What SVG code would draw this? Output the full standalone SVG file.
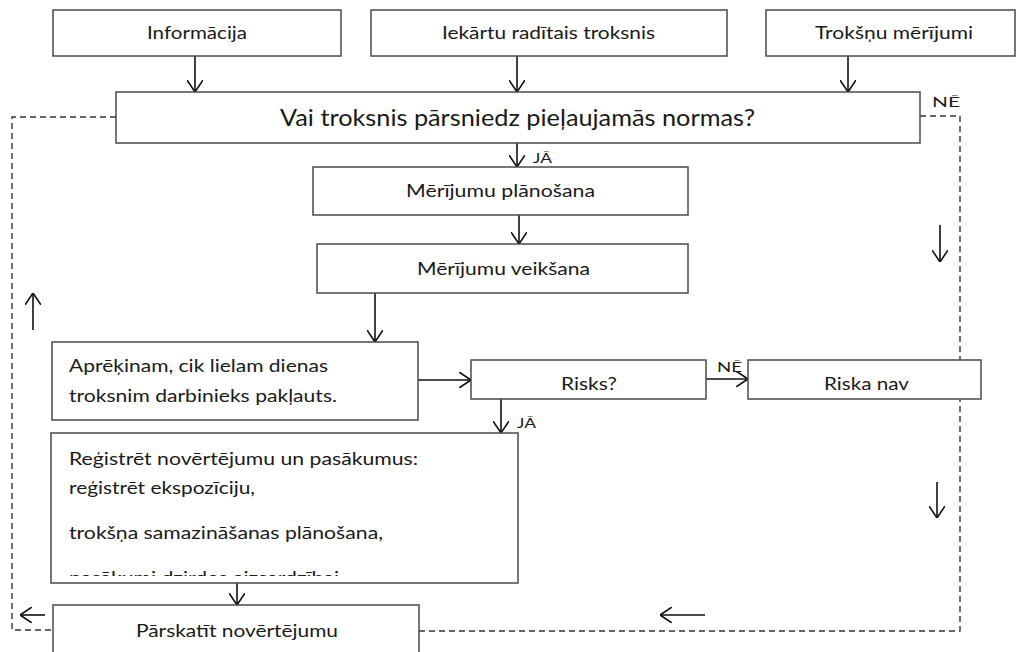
<svg xmlns="http://www.w3.org/2000/svg" width="1017" height="652" viewBox="0 0 1017 652">
<style>
.box{fill:#fff;stroke:#4a4a4a;stroke-width:1.5}
.t{font-family:Lato,"Liberation Sans",sans-serif;fill:#1a1a1a;font-size:18px}
.c{text-anchor:middle}
.lbl{font-family:Lato,"Liberation Sans",sans-serif;fill:#1a1a1a;font-size:14px}
.ln{fill:none;stroke:#111;stroke-width:1.6}
.dash{fill:none;stroke:#333;stroke-width:1.4;stroke-dasharray:6 4}
</style>
<defs>
<marker id="ah" viewBox="0 0 12 16" refX="12" refY="8" markerWidth="12" markerHeight="16" markerUnits="userSpaceOnUse" orient="auto">
<path d="M0,0 L12,8 L0,16" fill="none" stroke="#111" stroke-width="1.6"/>
</marker>
<clipPath id="clipReg"><rect x="52" y="434" width="465" height="142"/></clipPath>
</defs>
<g id="connectors">
<path class="dash" d="M116,117 H12 V630 H53"/>
<path class="dash" d="M920,116 H960 V631 H419"/>
<line class="ln" x1="195" y1="56" x2="195" y2="92" marker-end="url(#ah)"/>
<line class="ln" x1="517" y1="56" x2="517" y2="92" marker-end="url(#ah)"/>
<line class="ln" x1="848" y1="56" x2="848" y2="92" marker-end="url(#ah)"/>
<line class="ln" x1="517" y1="143" x2="517" y2="167" marker-end="url(#ah)"/>
<line class="ln" x1="519" y1="215" x2="519" y2="244" marker-end="url(#ah)"/>
<line class="ln" x1="375" y1="293" x2="375" y2="342" marker-end="url(#ah)"/>
<line class="ln" x1="418" y1="380" x2="471" y2="380" marker-end="url(#ah)"/>
<line class="ln" x1="706" y1="379" x2="748" y2="379" marker-end="url(#ah)"/>
<line class="ln" x1="501" y1="399" x2="501" y2="433" marker-end="url(#ah)"/>
<line class="ln" x1="237" y1="583" x2="237" y2="605" marker-end="url(#ah)"/>
<line class="ln" x1="940" y1="225" x2="940" y2="262" marker-end="url(#ah)"/>
<line class="ln" x1="937" y1="482" x2="937" y2="518" marker-end="url(#ah)"/>
<line class="ln" x1="33" y1="330" x2="33" y2="293" marker-end="url(#ah)"/>
<line class="ln" x1="705" y1="615" x2="660" y2="615" marker-end="url(#ah)"/>
<line class="ln" x1="45" y1="615" x2="20" y2="615" marker-end="url(#ah)"/>
<text class="lbl" x="932" y="107" textLength="28" lengthAdjust="spacingAndGlyphs">NĒ</text>
<text class="lbl" x="533" y="163" textLength="19" lengthAdjust="spacingAndGlyphs">JĀ</text>
<text class="lbl" x="717" y="372" textLength="25" lengthAdjust="spacingAndGlyphs">NĒ</text>
<text class="lbl" x="517" y="428" textLength="19" lengthAdjust="spacingAndGlyphs">JĀ</text>
</g>
<g id="n-informacija">
<rect class="box" x="53" y="10" width="288" height="46"/>
<text class="t" x="147" y="39" textLength="100" lengthAdjust="spacingAndGlyphs">Informācija</text>
</g>
<g id="n-iekartu">
<rect class="box" x="371" y="10" width="356" height="46"/>
<text class="t" x="442" y="39" textLength="213" lengthAdjust="spacingAndGlyphs">Iekārtu radītais troksnis</text>
</g>
<g id="n-meritumi">
<rect class="box" x="766" y="10" width="249" height="46"/>
<text class="t" x="815" y="39" textLength="158" lengthAdjust="spacingAndGlyphs">Trokšņu mērījumi</text>
</g>
<g id="n-jautajums">
<rect class="box" x="116" y="92" width="804" height="51"/>
<text class="t" x="280" y="126" style="font-size:23px" textLength="475" lengthAdjust="spacingAndGlyphs">Vai troksnis pārsniedz pieļaujamās normas?</text>
</g>
<g id="n-planosana">
<rect class="box" x="313" y="167" width="375" height="48"/>
<text class="t" x="406" y="197" textLength="189" lengthAdjust="spacingAndGlyphs">Mērījumu plānošana</text>
</g>
<g id="n-veiksana">
<rect class="box" x="317" y="244" width="371" height="49"/>
<text class="t" x="417" y="275" textLength="173" lengthAdjust="spacingAndGlyphs">Mērījumu veikšana</text>
</g>
<g id="n-aprekinam">
<rect class="box" x="52" y="342" width="366" height="78"/>
<text class="t" x="69" y="372" textLength="259" lengthAdjust="spacingAndGlyphs">Aprēķinam, cik lielam dienas</text>
<text class="t" x="69" y="402" textLength="268" lengthAdjust="spacingAndGlyphs">troksnim darbinieks pakļauts.</text>
</g>
<g id="n-risks">
<rect class="box" x="471" y="360" width="235" height="39"/>
<text class="t" x="561" y="390" textLength="56" lengthAdjust="spacingAndGlyphs">Risks?</text>
</g>
<g id="n-riska-nav">
<rect class="box" x="748" y="360" width="233" height="39"/>
<text class="t" x="824" y="390" textLength="85" lengthAdjust="spacingAndGlyphs">Riska nav</text>
</g>
<g id="n-registret">
<rect class="box" x="51" y="433" width="467" height="150"/>
<g clip-path="url(#clipReg)">
<text class="t" x="69" y="465" textLength="349" lengthAdjust="spacingAndGlyphs">Reģistrēt novērtējumu un pasākumus:</text>
<text class="t" x="69" y="494" textLength="186" lengthAdjust="spacingAndGlyphs">reģistrēt ekspozīciju,</text>
<text class="t" x="69" y="539" textLength="314" lengthAdjust="spacingAndGlyphs">trokšņa samazināšanas plānošana,</text>
<text class="t" x="69" y="584" textLength="270" lengthAdjust="spacingAndGlyphs">pasākumi dzirdes aizsardzībai</text>
</g>
</g>
<g id="n-parskatit">
<rect class="box" x="53" y="605" width="366" height="60"/>
<text class="t" x="136" y="637" textLength="202" lengthAdjust="spacingAndGlyphs">Pārskatīt novērtējumu</text>
</g>
</svg>
